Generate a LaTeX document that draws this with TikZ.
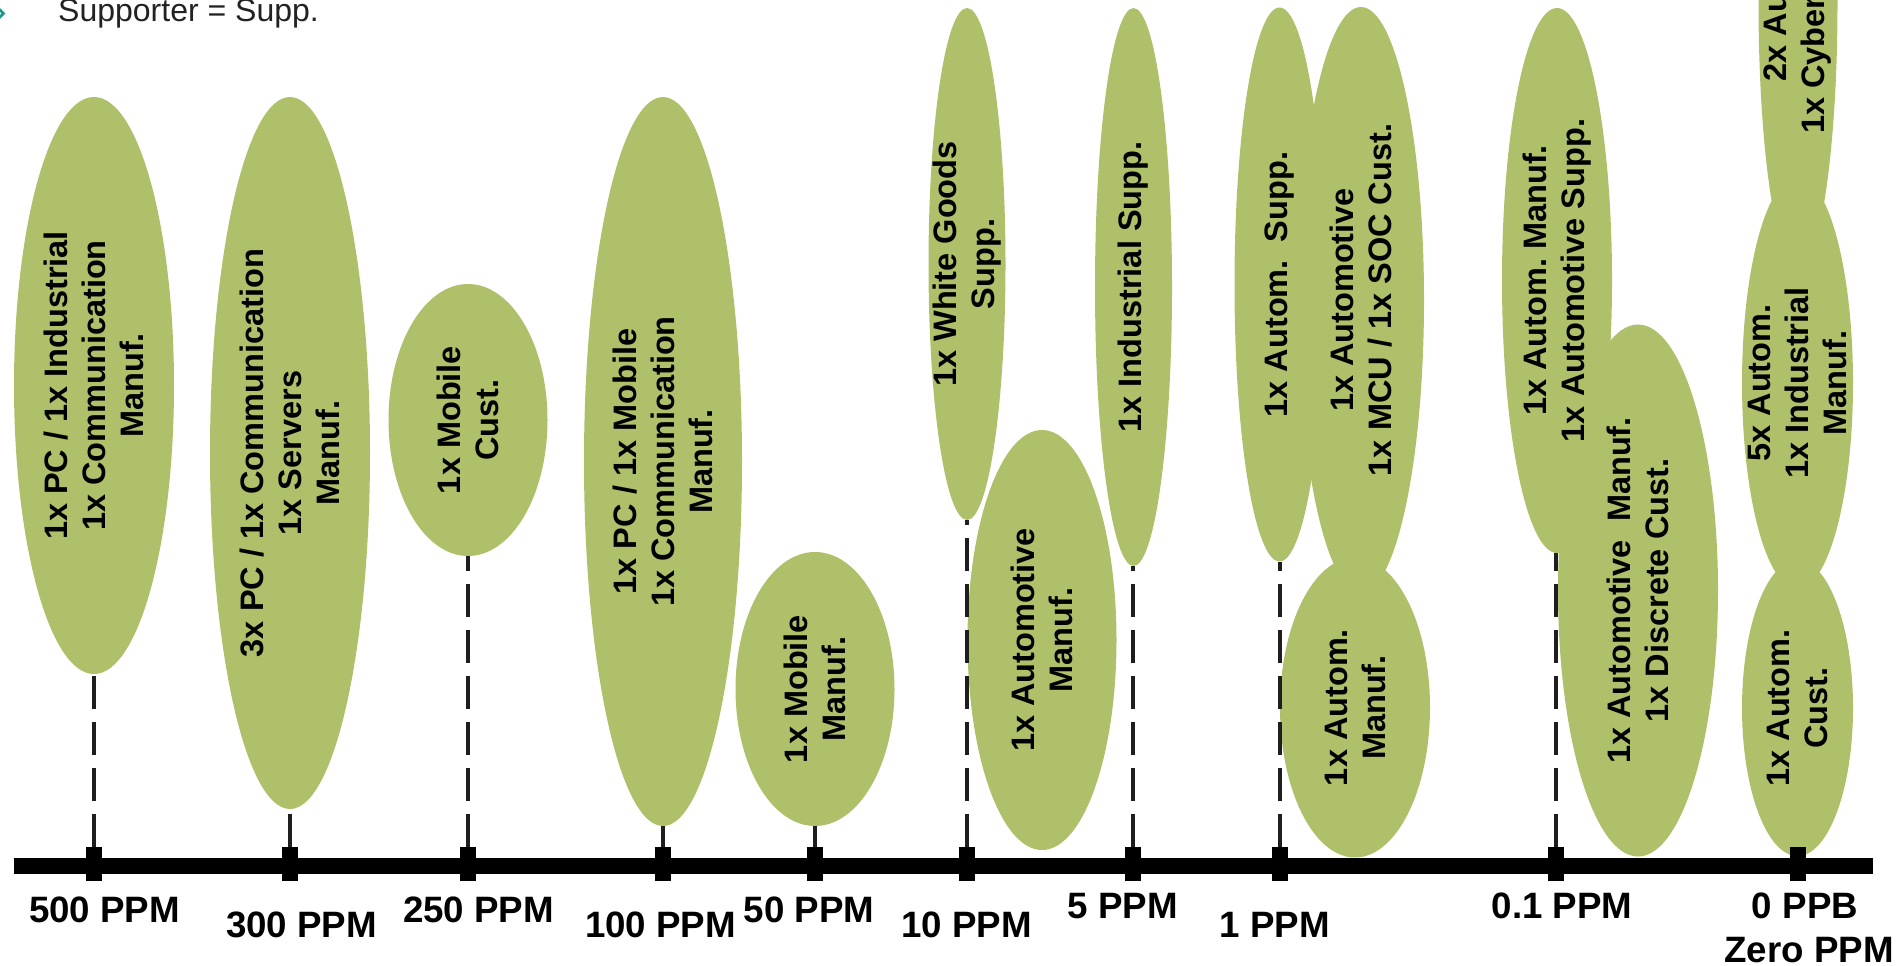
\documentclass[tikz,border=0pt]{standalone}
\usepackage{fontspec}
\setmainfont{Liberation Sans}
\usetikzlibrary{shapes.geometric}
\definecolor{leaf}{RGB}{174,192,106}
\definecolor{bulletteal}{RGB}{24,150,140}
\definecolor{dashgray}{RGB}{30,30,30}
\definecolor{darktext}{RGB}{34,34,34}
\begin{document}
\begin{tikzpicture}[x=1pt,y=-1pt,
  blob/.style={ellipse, fill=leaf, draw=none, inner sep=0pt, outer sep=0pt},
  blabel/.style={rotate=90, align=center, text=black, inner sep=0pt,
    font=\bfseries\fontsize{32.5pt}{38pt}\selectfont\frenchspacing},
  tickmark/.style={rectangle, fill=black, minimum width=16pt, minimum height=34pt, inner sep=0pt},
  ppm/.style={anchor=base, inner sep=0pt, text=black,
    font=\bfseries\fontsize{36.7pt}{44pt}\selectfont},
  guide/.style={draw=dashgray, line width=3.3pt, dash pattern=on 33pt off 13pt}
]
\path[use as bounding box] (0,0) rectangle (1904,966);
\clip (0,0) rectangle (1904,966);

% ellipses
\node[blob, minimum width=160pt, minimum height=577pt] (e500) at (94,385.5) {};
\node[blob, minimum width=160pt, minimum height=712pt] (e300) at (290,453) {};
\node[blob, minimum width=159pt, minimum height=272pt] (e250) at (468,420) {};
\node[blob, minimum width=158pt, minimum height=729pt] (e100) at (663,461.5) {};
\node[blob, minimum width=159pt, minimum height=274pt] (e50) at (815,689) {};
\node[blob, minimum width=77pt, minimum height=512pt] (e10a) at (967,264) {};
\node[blob, minimum width=149pt, minimum height=420pt] (e10b) at (1042,640) {};
\node[blob, minimum width=77pt, minimum height=558pt] (e5) at (1133.5,287) {};
\node[blob, minimum width=90pt, minimum height=554pt] (e1a) at (1279.5,284.5) {};
\node[blob, minimum width=126pt, minimum height=586pt] (e1b) at (1361,300) {};
\node[blob, minimum width=150pt, minimum height=300pt] (e1c) at (1355,707.5) {};
\node[blob, minimum width=110pt, minimum height=545pt] (e01a) at (1557,280.5) {};
\node[blob, minimum width=160pt, minimum height=532pt] (e01b) at (1638,590.5) {};
\node[blob, minimum width=79pt, minimum height=532pt] (e0a) at (1798,3) {};
\node[blob, minimum width=111pt, minimum height=412pt] (e0b) at (1797.5,383) {};
\node[blob, minimum width=111pt, minimum height=296pt] (e0c) at (1797.5,708) {};

% ellipse texts
\node[blabel] (l500) at (e500.center) {1x PC / 1x Industrial\\1x Communication\\Manuf.};
\node[blabel] (l300) at (e300.center) {3x PC / 1x Communication\\1x Servers\\Manuf.};
\node[blabel] (l250) at (e250.center) {1x Mobile\\Cust.};
\node[blabel] (l100) at (e100.center) {1x PC / 1x Mobile\\1x Communication\\Manuf.};
\node[blabel] (l50) at (e50.center) {1x Mobile\\Manuf.};
\node[blabel] (l10a) at (e10a.center) {1x White Goods\\Supp.};
\node[blabel] (l10b) at (e10b.center) {1x Automotive\\Manuf.};
\node[blabel] (l5) at (e5.center) {1x Industrial Supp.};
\node[blabel] (l1a) at (e1a.center) {1x Autom.~~Supp.};
\node[blabel] (l1b) at (e1b.center) {1x Automotive\\1x MCU / 1x SOC Cust.};
\node[blabel] (l1c) at (e1c.center) {1x Autom.\\Manuf.};
\node[blabel] (l01a) at (e01a.center) {1x Autom. Manuf.\\1x Automotive Supp.};
\node[blabel] (l01b) at (e01b.center) {1x Automotive~~Manuf.\\1x Discrete Cust.};
\node[blabel] (l0a) at (e0a.center) {2x Autom.\\1x Cybersecurity};
\node[blabel] (l0b) at (e0b.center) {5x Autom.\\1x Industrial\\Manuf.};
\node[blabel] (l0c) at (e0c.center) {1x Autom.\\Cust.};

% axis and ticks
\node[rectangle, fill=black, minimum width=1859pt, minimum height=16pt, inner sep=0pt] (axis) at (943.5,866) {};
\node[tickmark] (t500) at (94,864) {};
\node[tickmark] (t300) at (290,864) {};
\node[tickmark] (t250) at (468,864) {};
\node[tickmark] (t100) at (663,864) {};
\node[tickmark] (t50) at (815,864) {};
\node[tickmark] (t10) at (967,864) {};
\node[tickmark] (t5) at (1133,864) {};
\node[tickmark] (t1) at (1280,864) {};
\node[tickmark] (t01) at (1556,864) {};
\node[tickmark] (t0) at (1798,864) {};

% dashed guides
\draw[guide] (t500.north) -- (t500.north |- e500.south);
\draw[guide] (t300.north) -- (t300.north |- e300.south);
\draw[guide] (t250.north) -- (t250.north |- e250.south);
\draw[guide] (t100.north) -- (t100.north |- e100.south);
\draw[guide] (t50.north) -- (t50.north |- e50.south);
\draw[guide] (t10.north) -- (t10.north |- e10a.south);
\draw[guide] (t5.north) -- (t5.north |- e5.south);
\draw[guide] (t1.north) -- (t1.north |- e1a.south);
\draw[guide] (t01.north) -- (t01.north |- e01a.south);

% axis labels
\node[ppm] (p500) at (104.5,922) {500 PPM};
\node[ppm] (p300) at (301.5,937) {300 PPM};
\node[ppm] (p250) at (478.5,922) {250 PPM};
\node[ppm] (p100) at (660.5,937) {100 PPM};
\node[ppm] (p50) at (809,922) {50 PPM};
\node[ppm] (p10) at (966.5,937) {10 PPM};
\node[ppm] (p5) at (1123,918) {5 PPM};
\node[ppm] (p1) at (1275,937) {1 PPM};
\node[ppm] (p01) at (1562,918) {0.1 PPM};
\node[ppm] (p0) at (1805,918) {0 PPB};
\node[ppm] (pz) at (1809,962) {Zero PPM};

% top note
\draw[bulletteal, line width=2.6pt] (-3,7) -- (3.5,13.5) -- (-3,20);
\node[anchor=base west, inner sep=0pt, text=darktext, font=\fontsize{32pt}{38pt}\selectfont] (note) at (58,22) {Supporter = Supp.};
\end{tikzpicture}
\end{document}
